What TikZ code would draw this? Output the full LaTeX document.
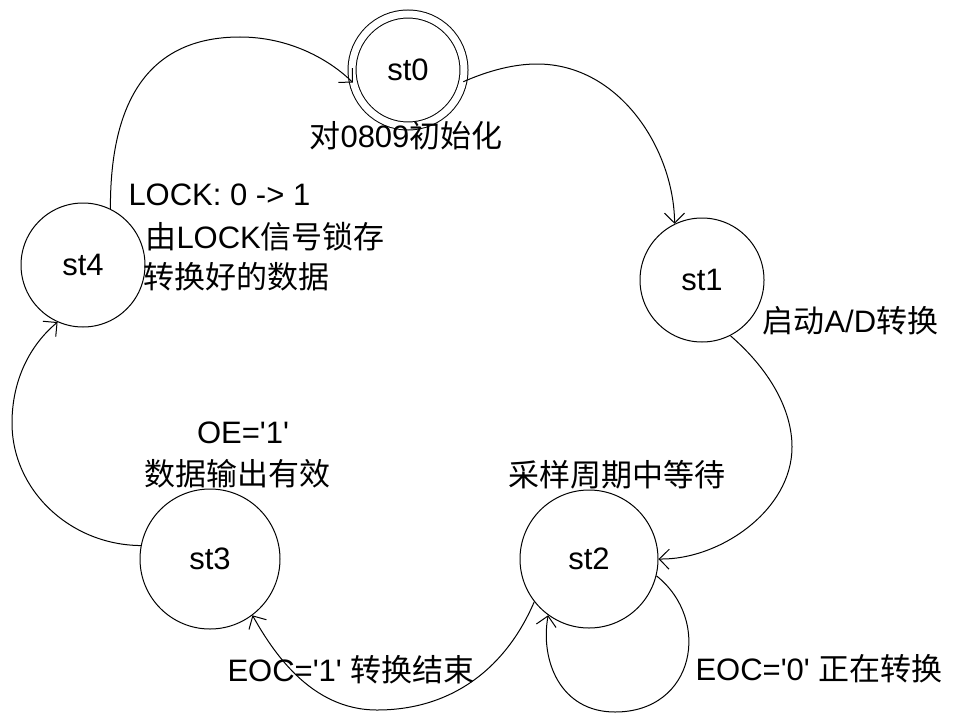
\documentclass[tikz,border=0pt]{standalone}
\usepackage{fontspec}
\setmainfont{Liberation Sans}
\newfontfamily\cjk{Noto Sans CJK SC}
\newcommand{\zh}[1]{{\cjk #1}}
\newcommand{\apos}{\textquotesingle}
\usetikzlibrary{arrows.meta}

\begin{document}
\begin{tikzpicture}[x=1pt, y=-1pt, line width=1pt, >={Straight Barb[length=10pt,width=20pt]}, state/.style={circle, draw, minimum size=124pt, inner sep=0pt, font=\fontsize{31}{37}\selectfont}, lbl/.style={inner sep=0pt, font=\fontsize{31}{37}\selectfont}]
  {
  \useasboundingbox (0,0) rectangle (957,717);
  \node[state, double, double distance=7pt, minimum size=112pt] (st0) at (408,70) {st0};
  \node[state] (st1) at (702,280) {st1};
  \node[state, minimum size=138pt] (st2) at (589,559) {st2};
  \node[state, minimum size=140pt] (st3) at (210,559) {st3};
  \node[state] (st4) at (83,265) {st4};

  \node[lbl, anchor=base] (init) at (406,147) {\zh{对}0809\zh{初始化}};
  \node[lbl, anchor=base west] (lock) at (128,205) {LOCK: 0 -> 1};
  \node[lbl, anchor=base west] (latch) at (145,248) {\zh{由}LOCK\zh{信号锁存}};
  \node[lbl, anchor=base west] (data) at (143,288) {\zh{转换好的数据}};
  \node[lbl, anchor=base west] (start) at (762,332) {\zh{启动}A/D\zh{转换}};
  \node[lbl, anchor=base] (wait) at (617,486) {\zh{采样周期中等待}};
  \node[lbl, anchor=base] (oe) at (243,443) {OE=\apos1\apos};
  \node[lbl, anchor=base] (valid) at (237,485) {\zh{数据输出有效}};
  \node[lbl, anchor=base west] (eocdone) at (227,681) {EOC=\apos1\apos{} \zh{转换结束}};
  \node[lbl, anchor=base west] (eocbusy) at (695,680) {EOC=\apos0\apos{} \zh{正在转换}};

  \draw[->] (st4.64) .. controls (110,80) and (165,37) .. (240,37) .. controls (290,37) and (330,60) .. (st0.193);
  \draw[->] (st0.348) .. controls (490,70) and (515,64) .. (537,64) .. controls (620,64) and (674,150) .. (st1.116);
  \draw[->] (st1.297) .. controls (770,370) and (792,410) .. (792,447) .. controls (792,510) and (720,560) .. (st2.0);
  \draw[->] (st2.346) .. controls (712,620) and (695,712) .. (615,712) .. controls (560,712) and (540,660) .. (st2.234);
  \draw[->] (st2.218) .. controls (505,670) and (450,710) .. (377,710) .. controls (310,710) and (272,650) .. (st3.307);
  \draw[->] (st3.169) .. controls (70,545) and (12,490) .. (12,423) .. controls (12,380) and (30,345) .. (st4.246);
}
\end{tikzpicture}
\end{document}
